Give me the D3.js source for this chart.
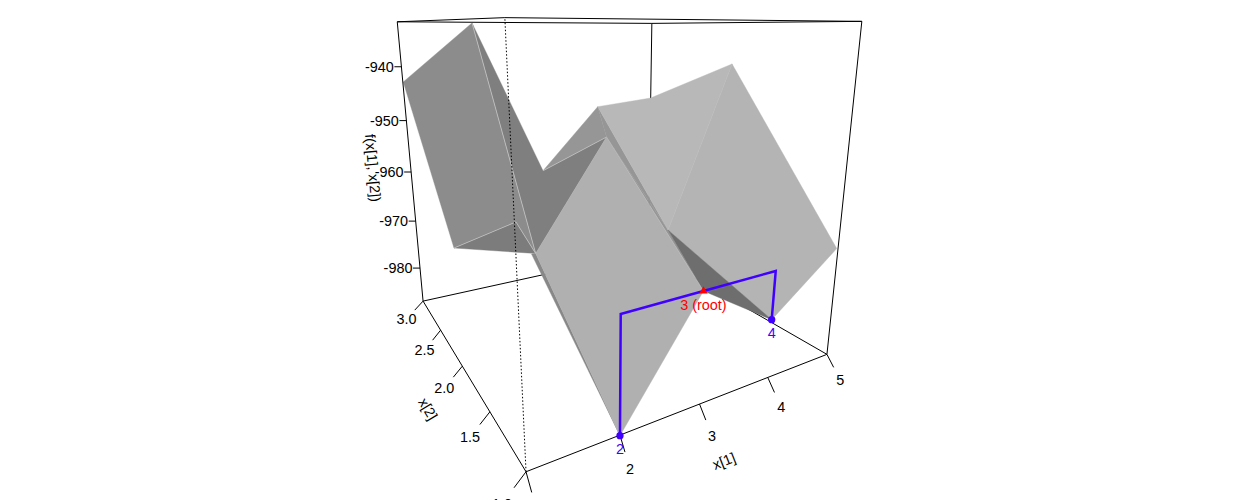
<!DOCTYPE html>
<html lang="en">
<head>
    <meta charset="UTF-8">
    <title>Surface with tree</title>
    <script src="https://d3js.org/d3.v7.min.js"></script>
    <style>
        body { margin: 0; background: #fff; }
        text { font-family: "Liberation Sans", Arial, sans-serif; font-size: 14.4px; }
    </style>
</head>
<body>
    <div id="chart"></div>
    <script>
        // Axis ticks
        const x1Ticks = [1, 2, 3, 4, 5];
        const x2Ticks = [1, 1.5, 2, 2.5, 3];
        const zTicks = [-980, -970, -960, -950, -940];
        const zRange = [-987.3, -932];

        // Surface vertices
        const vertexX1 = [1, 1, 1, 1, 2, 3, 4, 3, 5, 5, 4, 5, 5, 2, 3, 2];
        const vertexX2 = [2.984, 1.401, 1.986, 0.982, 2.007, 3.012, 3.02, 2.001, 3.002, 2.006, 2.016, 1.009, 1.472, 1, 1.007, 2.075];
        const vertexZ = [-942.74, -932.46, -966.26, -953.85, -970.11, -963.14, -950.08, -951.25, -948.87, -939.62, -970.81, -967.94, -986.72, -987.39, -968.99, -970.86];

        // Facets as vertex indexes, back to front
        const facets = [[5, 6, 7], [6, 10, 7], [7, 10, 14], [1, 5, 7, 4], [6, 8, 9, 10], [9, 11, 12, 10], [10, 12, 14],
            [0, 1, 4, 3, 2], [2, 3, 4], [15, 13, 4], [7, 4, 13, 14]];
        const facetGreys = [150, 150, 150, 127, 184, 180, 110, 140, 124, 136, 176];
        const seams = [[2, 3], [3, 4], [1, 4], [5, 7]];
        const faintSeams = [[7, 14], [9, 10]];

        // Tree nodes and the path between them
        const nodeX1 = [2, 3, 5];
        const nodeX2 = [1, 1.007, 1.472];
        const nodeZ = [-987.39, -968.99, -986.72];
        const nodeLabels = ['2', '3 (root)', '4'];
        const treeX1 = [2, 2, 3, 5, 5];
        const treeX2 = [1, 0.996, 1.007, 1.469, 1.472];
        const treeZ = [-987.39, -968.86, -968.99, -976.67, -986.72];

        const blue = '#4000ff', red = '#ff0000';

        // Scales into the unit box
        const scaleX1 = d3.scaleLinear().domain([1, 5]).range([0, 1]);
        const scaleX2 = d3.scaleLinear().domain([1, 3]).range([0, 1]);
        const scaleZ = d3.scaleLinear().domain(zRange).range([0, 1]);

        // Tick lengths shrink with distance from the viewer
        const x1TickDx = d3.scaleLinear().domain(x1Ticks).range([5.7, 5, 6.3, 6.7, 6.7]);
        const x1TickDy = d3.scaleLinear().domain(x1Ticks).range([20.7, 17, 16, 15, 13]);
        const x2TickDx = d3.scaleLinear().domain(x2Ticks).range([-12, -10, -9, -8, -8.3]);
        const x2TickDy = d3.scaleLinear().domain(x2Ticks).range([16, 12.7, 11, 10, 9]);

        // Camera matrix fitted to the box corners and ticks
        const m = [599.9422, 160.6072, -118.3207, 526.0312, 10.7404, 16.9305, -457.5039, 471.7496, 0.3616, 0.623, -0.1924];
        function project(a, b, c) {
            const u = scaleX1(a), v = scaleX2(b), w = scaleZ(c);
            const q = m[8] * u + m[9] * v + m[10] * w + 1;
            return [(m[0] * u + m[1] * v + m[2] * w + m[3]) / q, (m[4] * u + m[5] * v + m[6] * w + m[7]) / q];
        }
        const vertex = i => project(vertexX1[i], vertexX2[i], vertexZ[i]);
        const line = d3.line();

        const svg = d3.select('#chart')
            .append('svg')
            .attr('width', 1242)
            .attr('height', 500)
            .style('display', 'block');

        function edge(a, b, dash) {
            svg.append('path')
                .attr('d', line([project(...a), project(...b)]))
                .attr('fill', 'none')
                .attr('stroke', '#000')
                .attr('stroke-width', 1)
                .attr('stroke-dasharray', dash || null);
        }
        function tick(p, dx, dy) {
            svg.append('path')
                .attr('d', line([p, [p[0] + dx, p[1] + dy]]))
                .attr('stroke', '#000');
        }
        const [zLo, zHi] = zRange;

        // Back of the box, hidden by the surface
        edge([1, 3, zLo], [5, 3, zLo]);
        edge([5, 1, zLo], [5, 3, zLo]);
        edge([5, 3, zLo], [5, 3, zHi]);
        edge([1, 3, zHi], [5, 3, zHi]);
        edge([5, 3, zHi], [5, 1, zHi]);

        // Surface
        svg.selectAll('.facet')
            .data(facets)
            .enter()
            .append('path')
            .attr('class', 'facet')
            .attr('d', d => line(d.map(vertex)) + 'Z')
            .attr('fill', (d, i) => d3.rgb(facetGreys[i], facetGreys[i], facetGreys[i]))
            .attr('stroke', (d, i) => d3.rgb(facetGreys[i], facetGreys[i], facetGreys[i]))
            .attr('stroke-width', 0.4);

        svg.selectAll('.seam')
            .data(seams)
            .enter()
            .append('path')
            .attr('class', 'seam')
            .attr('d', d => line(d.map(vertex)))
            .attr('stroke', '#c6c6c6')
            .attr('stroke-width', 0.8);

        svg.selectAll('.faint')
            .data(faintSeams)
            .enter()
            .append('path')
            .attr('class', 'faint')
            .attr('d', d => line(d.map(vertex)))
            .attr('stroke', '#c0c0c0')
            .attr('stroke-width', 0.4);

        // Front of the box
        edge([1, 1, zLo], [5, 1, zLo]);
        edge([1, 1, zLo], [1, 3, zLo]);
        edge([1, 3, zLo], [1, 3, zHi]);
        edge([5, 1, zLo], [5, 1, zHi]);
        edge([1, 1, zHi], [1, 3, zHi]);
        edge([1, 1, zHi], [5, 1, zHi]);
        edge([1, 1, zLo], [1, 1, zHi], '1.5 2');

        function label(pos, str, color, rotate) {
            const t = svg.append('text')
                .attr('text-anchor', 'middle')
                .attr('dy', '0.35em')
                .attr('fill', color || '#000')
                .text(str);
            if (rotate) t.attr('transform', `translate(${pos}) rotate(${rotate})`);
            else t.attr('x', pos[0]).attr('y', pos[1]);
        }

        // Ticks, labels sit at twice the tick length
        x1Ticks.forEach(d => {
            const p = project(d, 1, zLo), dx = x1TickDx(d), dy = x1TickDy(d);
            tick(p, dx, dy);
            if (d > 1) label([p[0] + 2 * dx, p[1] + 2 * dy], d);
        });
        x2Ticks.forEach(d => {
            const p = project(1, d, zLo), dx = x2TickDx(d), dy = x2TickDy(d);
            tick(p, dx, dy);
            label([p[0] + 2 * dx, p[1] + 2 * dy], d3.format('.1f')(d));
        });
        zTicks.forEach(d => {
            const p = project(1, 3, d);
            tick(p, -7, 0);
            label([p[0] - 22, p[1]], d);
        });

        // Axis titles
        label([724, 461], 'x[1]', '#000', -21.6);
        label([428, 409], 'x[2]', '#000', 58.8);
        label([373, 168], 'f(x[1], x[2])', '#000', 85);

        // Tree
        svg.append('path')
            .attr('d', line(treeX1.map((d, i) => project(d, treeX2[i], treeZ[i]))))
            .attr('fill', 'none')
            .attr('stroke', blue)
            .attr('stroke-width', 2.5);

        const symbol = d3.symbol();
        nodeX1.forEach((d, i) => {
            const p = project(d, nodeX2[i], nodeZ[i]);
            const root = i === 1;
            svg.append('path')
                .attr('transform', `translate(${p})`)
                .attr('d', symbol.type(root ? d3.symbolTriangle : d3.symbolCircle).size(root ? 30 : 42)())
                .attr('fill', root ? red : blue);
            label([p[0], p[1] + 13.5], nodeLabels[i], root ? red : blue);
        });
    </script>
</body>
</html>
